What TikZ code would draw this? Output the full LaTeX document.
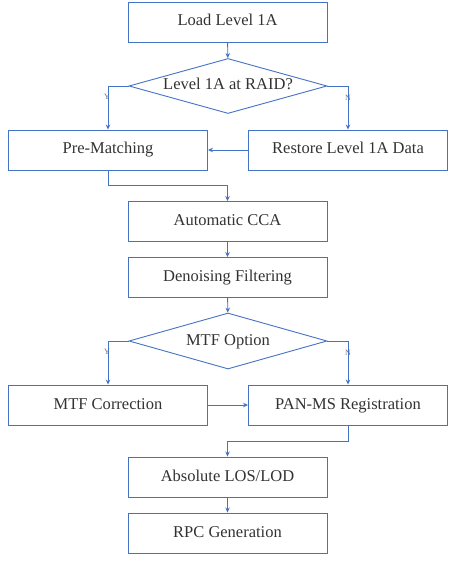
\documentclass[tikz,border=0pt]{standalone}
\usepackage{fontspec}
\setmainfont{Liberation Serif}
\usetikzlibrary{shapes.geometric,arrows.meta}
\definecolor{lineblue}{RGB}{68,114,196}
\definecolor{txtgray}{RGB}{50,50,50}
\tikzset{
  x=1pt,y=-1pt,
  box/.style={draw=lineblue,line width=0.9pt,minimum width=199pt,minimum height=40pt,inner sep=0pt,
    text height=11.5pt,text depth=3.5pt,
    font=\fontsize{16.5}{19}\selectfont,text=txtgray},
  decision/.style={draw=lineblue,line width=0.9pt,shape=diamond,aspect=3.6,minimum width=198pt,minimum height=55pt,inner sep=0pt,
    text height=11.5pt,text depth=3.5pt,
    font=\fontsize{16.5}{19}\selectfont,text=txtgray},
  conn/.style={draw=lineblue,line width=0.9pt,-{Stealth[length=5pt,width=4.5pt]}},
  yn/.style={font=\fontsize{8}{9}\selectfont,text=txtgray!70,inner sep=0pt}
}
\begin{document}
\begin{tikzpicture}
\useasboundingbox (0,0) rectangle (451,561);
\node[box] (load) at (227.5,22) {Load Level 1A};
\node[decision] (dec1) at (228,86) {Level 1A at RAID?};
\node[box] (pre) at (108,150) {Pre-Matching};
\node[box] (rest) at (348,150) {Restore Level 1A Data};
\node[box] (cca) at (227.5,221.5) {Automatic CCA};
\node[box] (den) at (227.5,277.5) {Denoising Filtering};
\node[decision,minimum height=56pt] (dec2) at (228,341) {MTF Option};
\node[box] (mtfc) at (108,405) {MTF Correction};
\node[box] (pan) at (348,405) {PAN-MS Registration};
\node[box] (abs) at (227.5,477) {Absolute LOS/LOD};
\node[box] (rpc) at (227.5,533) {RPC Generation};
\node[yn] (y1) at (107,97) {Y};
\node[yn] (n1) at (348,98) {N};
\node[yn] (y2) at (107,352) {Y};
\node[yn] (n2) at (348,353) {N};
\coordinate (j1) at (108,185);
\coordinate (j2) at (348,441);
\path[conn] (load) -- (dec1);
\path[conn] (dec1.west) -| (pre.north);
\path[conn] (dec1.east) -| (rest.north);
\path[conn] (rest) -- (pre);
\path[conn] (pre.south) -- (j1) -| (cca.north);
\path[conn] (cca) -- (den);
\path[conn] (den) -- (dec2);
\path[conn] (dec2.west) -| (mtfc.north);
\path[conn] (dec2.east) -| (pan.north);
\path[conn] (mtfc) -- (pan);
\path[conn] (pan.south) -- (j2) -| (abs.north);
\path[conn] (abs) -- (rpc);
\end{tikzpicture}
\end{document}
